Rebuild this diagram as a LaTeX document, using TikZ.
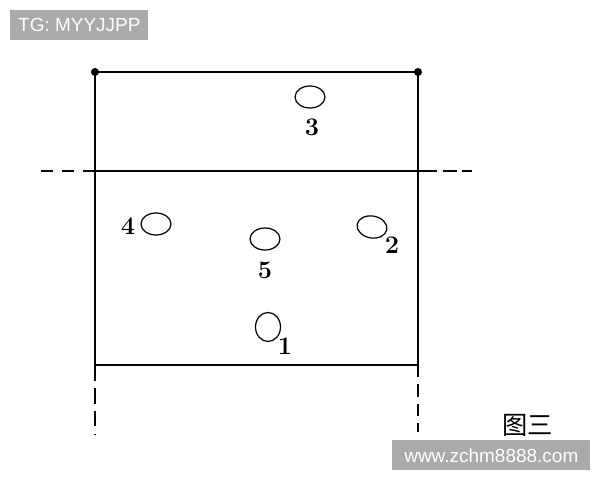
\documentclass[tikz,border=0pt]{standalone}
\usepackage{fontspec}
\usepackage{xcolor}
\usetikzlibrary{shapes, arrows, positioning, calc}
\newfontfamily\cjk{Noto Sans CJK SC}
\newfontfamily\wmfont{Liberation Sans}
\definecolor{wmgray}{RGB}{170,170,170}

\begin{document}
\begin{tikzpicture}[x=0.02cm, y=-0.02cm,
		hole/.style={draw, ellipse, line width=0.7pt, inner sep=0pt, minimum width=0.6cm, minimum height=0.44cm},
		num/.style={font=\Large\bfseries, inner sep=0pt},
		wm/.style={fill=wmgray, text=white, font=\wmfont\fontsize{10.8}{13}\selectfont, inner sep=0pt, anchor=north west}]
		\useasboundingbox (0,0) rectangle (600,480);

		% corners of the plan
		\coordinate (TL) at (95,72);
		\coordinate (TR) at (418,72);
		\coordinate (BL) at (95,365);
		\coordinate (BR) at (418,365);
		\coordinate (ML) at (95,171);
		\coordinate (MR) at (418,171);
		\coordinate (EL) at (40,171);
		\coordinate (ER) at (474,171);
		\coordinate (DL) at (95,434);
		\coordinate (DR) at (418,432);

		\draw[line width=1.1pt] (TL) -- (TR) -- (BR) -- (BL) -- cycle;
		\draw[line width=1.1pt] (ML) -- (MR);
		\draw[line width=1.1pt, dash pattern=on 7pt off 5pt] (ML) -- (EL);
		\draw[line width=1.4pt, dash pattern=on 11pt off 3pt on 8pt off 3pt on 6pt off 3pt] (MR) -- (ER);
		\draw[line width=1.1pt, dash pattern=on 9pt off 4pt] (BL) -- (DL);
		\draw[line width=1.1pt, dash pattern=on 7pt off 4pt] (BR) -- (DR);
		\fill (TL) circle (2.3pt);
		\fill (TR) circle (2.3pt);

		% holes
		\node[hole] (H3) at (310,97) {};
		\node[num] (N3) at (312,127) {3};
		\node[hole] (H4) at (156,224) {};
		\node[num] (N4) at (128,226) {4};
		\node[hole] (H5) at (265,239) {};
		\node[num] (N5) at (265,270) {5};
		\node[hole, rotate=-10] (H2) at (372,227) {};
		\node[num] (N2) at (392,245) {2};
		\node[hole, minimum width=0.5cm, minimum height=0.58cm] (H1) at (268,327) {};
		\node[num] (N1) at (285,346) {1};

		\node[font=\cjk\Large, inner sep=0pt] (Fig) at (528,425) {图三};

		% watermarks
		\node[wm, minimum width=2.76cm, minimum height=0.6cm] (TG) at (10,10) {TG: MYYJJPP};
		\node[wm, minimum width=3.96cm, minimum height=0.6cm] (Site) at (392,440) {www.zchm8888.com};
\end{tikzpicture}
\end{document}
